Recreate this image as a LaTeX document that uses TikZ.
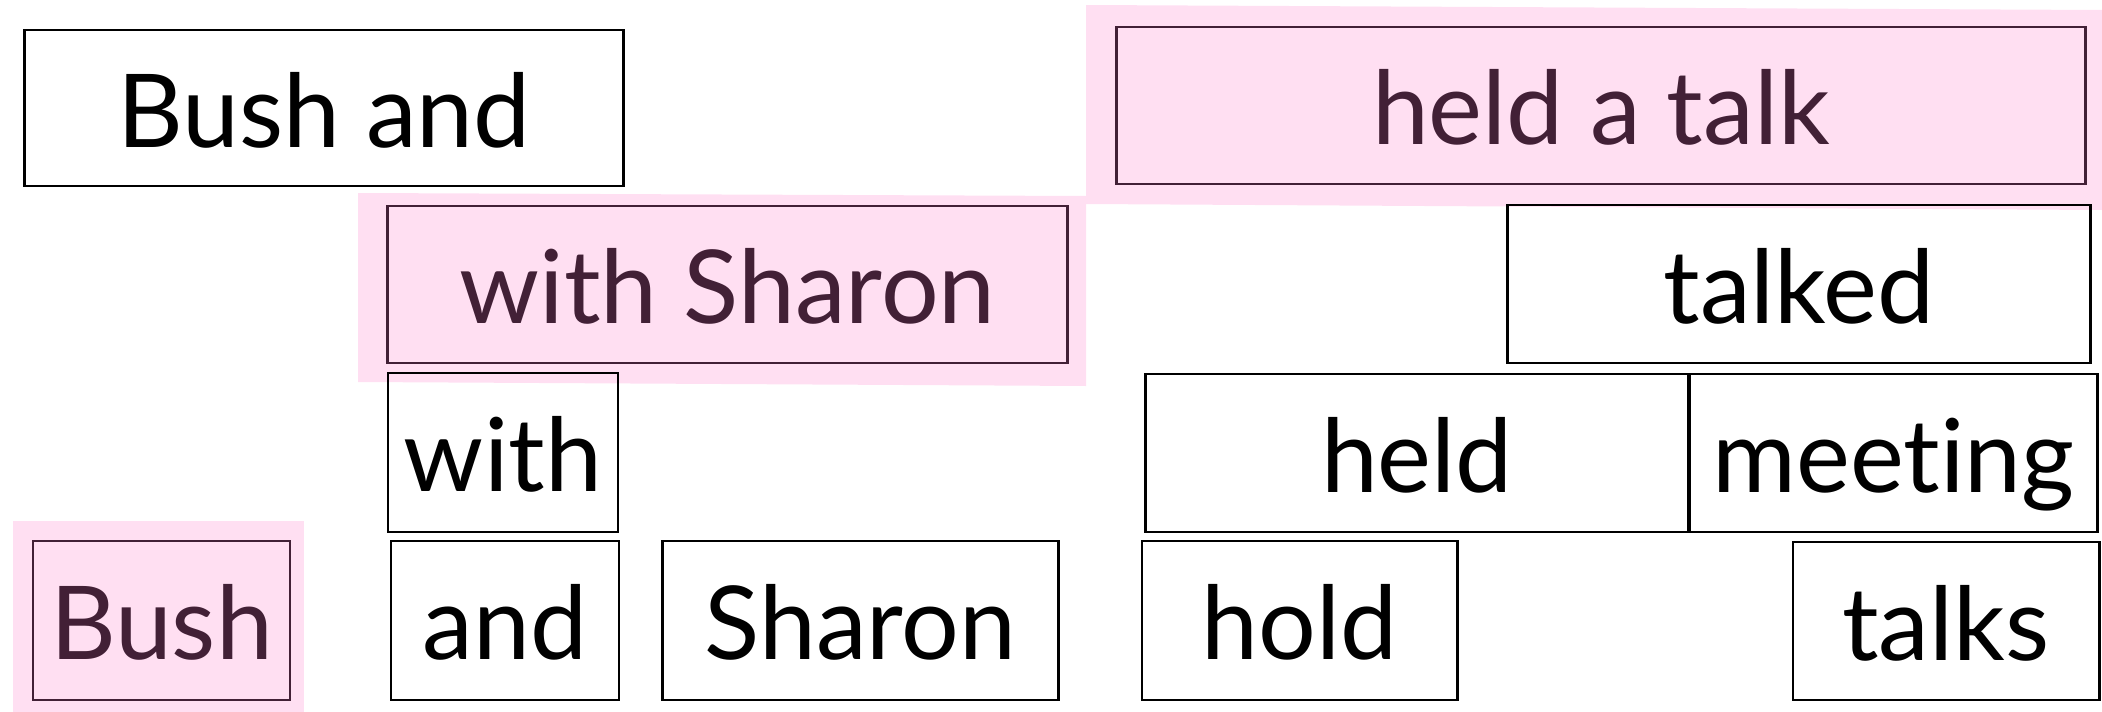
\documentclass[tikz,border=0pt]{standalone}
\usepackage{fontspec}
\setmainfont[Ligatures={NoCommon}]{Lato}
\definecolor{hlpink}{RGB}{255,223,242}
\definecolor{plum}{RGB}{66,32,54}
\begin{document}
\begin{tikzpicture}[x=0.01cm,y=-0.01cm,
  wbox/.style={draw=black, line width=0.8pt, inner sep=0pt, text height=0.78cm, text depth=0pt,
    font=\fontsize{29}{30}\selectfont, text=black},
  pbox/.style={wbox, draw=plum, text=plum},
  hl/.style={fill=hlpink, draw=none}]
\useasboundingbox (0,0) rectangle (2102,712);
% highlight bands
\fill[hlpink] (1086,5) -- (2102,10) -- (2102,210) -- (1086,204) -- cycle;
\fill[hlpink] (358,193) -- (1086,196) -- (1086,386) -- (358,382) -- cycle;
\fill[hlpink] (13,521) -- (304,521) -- (304,712) -- (13,712) -- cycle;
% row 1
\node[wbox, minimum width=5.98cm, minimum height=1.56cm] (bushand) at (324,108) {Bush and};
\node[pbox, minimum width=9.68cm, minimum height=1.57cm] (heldatalk) at (1601,105.5) {held a talk};
% row 2
\node[pbox, minimum width=6.79cm, minimum height=1.57cm] (withsharon) at (727.5,284.5) {with Sharon};
\node[wbox, minimum width=5.82cm, minimum height=1.58cm] (talked) at (1799,284) {talked};
% row 3
\node[wbox, minimum width=2.30cm, minimum height=1.59cm] (with) at (503,452.5) {with};
\node[wbox, minimum width=5.42cm, minimum height=1.58cm] (held) at (1417,453) {held};
\node[wbox, minimum width=4.07cm, minimum height=1.58cm] (meeting) at (1893.5,453) {meeting};
% row 4
\node[pbox, minimum width=2.57cm, minimum height=1.59cm] (bush) at (161.5,620.5) {Bush};
\node[wbox, minimum width=2.28cm, minimum height=1.59cm] (and) at (505,620.5) {and};
\node[wbox, minimum width=3.95cm, minimum height=1.59cm] (sharon) at (860.5,620.5) {Sharon};
\node[wbox, minimum width=3.15cm, minimum height=1.59cm] (hold) at (1299.5,620.5) {hold};
\node[wbox, minimum width=3.06cm, minimum height=1.58cm] (talks) at (1946,621) {talks};
\end{tikzpicture}
\end{document}
